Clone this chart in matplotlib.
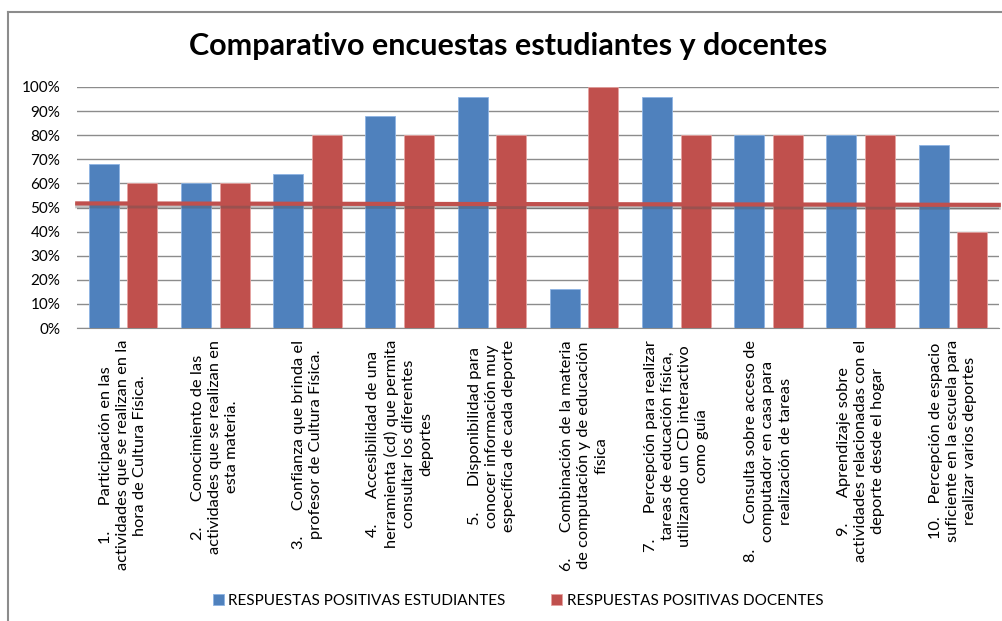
import matplotlib
matplotlib.use("Agg")
import matplotlib.pyplot as plt
import numpy as np
from matplotlib.lines import Line2D

title = "Comparativo encuestas estudiantes y docentes"
categories = [
    "1.      Participación en las\nactividades que se realizan en la\nhora de Cultura Física.",
    "2.      Conocimiento de las\nactividades que se realizan en\nesta materia.",
    "3.      Confianza que brinda el\nprofesor de Cultura Física.",
    "4.      Accesibilidad de una\nherramienta (cd) que permita\nconsultar los diferentes\ndeportes",
    "5.      Disponibilidad para\nconocer información muy\nespecífica de cada deporte",
    "6.      Combinación de la materia\nde computación y de educación\nfísica",
    "7.      Percepción para realizar\ntareas de educación física,\nutilizando un CD interactivo\ncomo guía",
    "8.      Consulta sobre acceso de\ncomputador en casa para\nrealización de tareas",
    "9.      Aprendizaje sobre\nactividades relacionadas con el\ndeporte desde el hogar",
    "10.   Percepción de espacio\nsuficiente en la escuela para\nrealizar varios deportes",
]
series_names = ["RESPUESTAS POSITIVAS ESTUDIANTES", "RESPUESTAS POSITIVAS DOCENTES"]
estudiantes = [68, 60, 64, 88, 96, 16, 96, 80, 80, 76]
docentes = [60, 60, 80, 80, 80, 100, 80, 80, 80, 40]
trend_line = [51.7, 51.1]  # red horizontal line (start, end) in %
yticks = [0, 10, 20, 30, 40, 50, 60, 70, 80, 90, 100]

BLUE = "#4F81BD"
RED = "#C0504D"
FONT = "Lato"

W, H = 1003, 621
fig = plt.figure(figsize=(W / 100, H / 100), dpi=100)
fig.patch.set_facecolor("white")

# chart border (top and left visible)
fig.add_artist(Line2D([8 / W, 8 / W], [0, 1 - 12 / H], transform=fig.transFigure,
                      color="#8C8C8C", lw=1.5))
fig.add_artist(Line2D([8 / W, 1], [1 - 12 / H, 1 - 12 / H], transform=fig.transFigure,
                      color="#8C8C8C", lw=1.5))

left, right = 77 / W, 999 / W
top, bottom = 1 - 87 / H, 1 - 328 / H
ax = fig.add_axes([left, bottom, right - left, top - bottom])

n = len(categories)
x = np.arange(n)
bw = 0.325
off = 0.21
ax.bar(x - off, estudiantes, bw, color=BLUE, edgecolor="#8EB4E3", linewidth=0.6,
       zorder=3, label=series_names[0])
ax.bar(x + off, docentes, bw, color=RED, edgecolor="#E6A3A1", linewidth=0.6,
       zorder=3, label=series_names[1])

# trend line with shadow
ax.plot([-0.52, n - 0.48], [trend_line[0] - 0.9, trend_line[1] - 0.9], color="#555555",
        lw=4, alpha=0.35, zorder=4, solid_capstyle="butt", clip_on=False)
ax.plot([-0.52, n - 0.48], trend_line, color=RED, lw=3, zorder=5,
        solid_capstyle="butt", clip_on=False)

ax.set_xlim(-0.5, n - 0.5)
ax.set_ylim(0, 100)
ax.set_yticks(yticks)
ax.set_yticklabels([f"{v}%" for v in yticks], fontsize=11, family=FONT)
ax.yaxis.grid(True, color="#8C8C8C", lw=1, zorder=0)
ax.set_axisbelow(True)
for s in ["top", "right", "left"]:
    ax.spines[s].set_visible(False)
ax.spines["bottom"].set_color("#8C8C8C")
ax.tick_params(axis="y", length=0, pad=12)
ax.tick_params(axis="x", length=0)
ax.set_xticks([])

for i, lab in enumerate(categories):
    ax.annotate(lab, xy=(i, 0), xycoords="data", xytext=(0, -12),
                textcoords="offset pixels", rotation=90, ha="center", va="top",
                multialignment="center", fontsize=11.8, family=FONT,
                linespacing=1.28, annotation_clip=False)

fig.text(508 / W, 1 - 46 / H, title, ha="center", va="center", fontsize=22,
         fontweight="bold", family=FONT)

leg = fig.legend(loc="center", bbox_to_anchor=(518 / W, 1 - 601 / H), ncol=2,
                 frameon=False, prop={"family": FONT, "size": 11},
                 handlelength=0.7, handleheight=0.7, handletextpad=0.3,
                 columnspacing=3.0)

fig.savefig("out.png", dpi=100)
